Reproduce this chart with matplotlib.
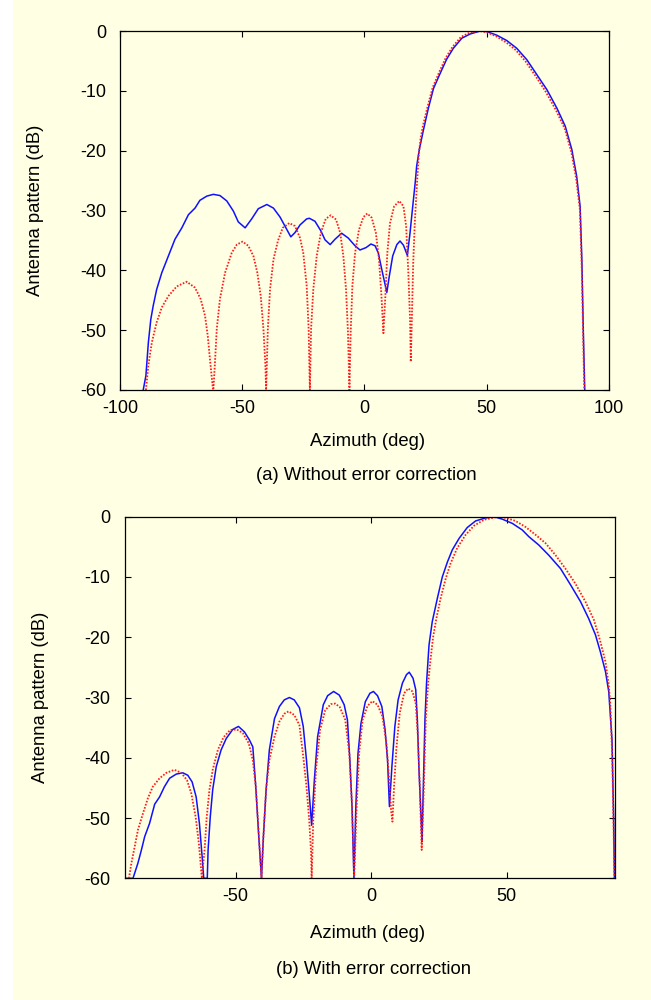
import matplotlib
matplotlib.use("Agg")
import matplotlib.pyplot as plt
from matplotlib.patches import Rectangle

plt.rcParams['font.family'] = ['Liberation Sans', 'DejaVu Sans']
plt.rcParams['axes.unicode_minus'] = False

BG = '#FFFFE3'
BLUE = '#1010FF'
RED = '#FF1A1A'

# (a) without error correction - measured (blue) and ideal (red)
az_a_meas = [-90.5, -89.4, -88.4, -87.4, -86.4, -85.0, -82.9, -80.2, -77.5, -74.7,
             -72.0, -69.3, -67.3, -64.5, -61.8, -59.1, -56.3, -53.6, -51.6, -48.8,
             -46.1, -43.4, -39.9, -37.2, -34.5, -32.1, -30.1, -28.4, -26.3, -23.6,
             -22.5, -20.2, -17.8, -16.1, -14.0, -12.0, -9.3, -6.6, -3.8, -1.8,
             0.7, 2.7, 4.4, 5.7, 7.1, 9.2, 10.2, 11.6, 13.3, 14.6,
             16.0, 17.6, 18.7, 19.8, 20.8, 21.4, 22.5, 24.2, 26.2, 28.3,
             31.0, 33.7, 36.4, 39.9, 43.3, 47.4, 50.1, 54.2, 58.3, 62.4,
             66.5, 70.6, 74.7, 78.8, 82.2, 84.9, 86.9, 88.3, 89.0, 89.6, 90.2]
pat_a_meas = [-60.0, -57.6, -52.1, -48.2, -45.9, -43.2, -40.4, -37.6, -34.8, -32.9,
              -30.7, -29.6, -28.3, -27.6, -27.3, -27.5, -28.4, -30.1, -31.9, -32.9,
              -31.4, -29.7, -29.0, -29.6, -31.1, -32.9, -34.4, -33.7, -32.4, -31.4,
              -31.3, -31.8, -33.4, -34.9, -35.7, -34.8, -33.8, -34.6, -35.9, -36.6,
              -36.2, -35.6, -35.9, -37.1, -39.8, -43.7, -41.0, -37.6, -35.7, -35.1,
              -35.8, -37.5, -33.7, -29.3, -25.4, -22.6, -19.8, -16.5, -12.9, -9.6,
              -7.1, -4.7, -2.9, -1.2, -0.5, 0.0, -0.1, -0.7, -1.6, -2.9,
              -4.8, -7.3, -9.8, -12.9, -15.9, -19.8, -24.3, -29.3, -38.0, -50.0, -60.0]

az_a_ideal = [-89.4, -88.4, -87.0, -85.0, -82.9, -80.2, -76.8, -72.7, -69.3, -67.0,
              -65.2, -64.1, -63.2, -62.1, -61.8, -61.2, -60.4, -59.1, -57.0, -54.3,
              -52.2, -49.8, -47.5, -45.4, -43.8, -42.4, -41.3, -40.5, -40.2, -39.5,
              -38.6, -37.2, -35.4, -33.4, -30.7, -28.4, -26.3, -25.0, -23.6, -22.8,
              -22.3, -21.8, -20.9, -19.5, -17.8, -15.8, -13.8, -11.6, -9.9, -8.6,
              -7.5, -6.7, -6.1, -5.6, -4.9, -3.8, -2.2, -0.4, 1.2, 3.0,
              4.7, 6.0, 7.0, 7.8, 8.6, 9.4, 10.5, 12.2, 14.3, 16.0,
              17.1, 18.0, 18.7, 19.0, 19.5, 20.0, 20.7, 21.4, 22.2, 23.0,
              24.0, 25.9, 28.0, 30.6, 33.3, 36.0, 39.5, 43.0, 47.0, 50.0,
              54.0, 58.0, 62.0, 66.0, 70.2, 74.3, 78.5, 82.0, 84.7, 86.7,
              88.2, 89.0, 89.6, 90.0]
pat_a_ideal = [-60.0, -55.9, -52.1, -48.7, -46.2, -44.3, -42.7, -41.9, -42.9, -44.8,
               -47.6, -50.9, -54.8, -59.3, -60.0, -55.9, -49.8, -44.8, -40.4, -37.1,
               -35.7, -35.2, -35.9, -37.6, -40.4, -44.3, -49.8, -55.9, -60.0, -49.8,
               -43.2, -38.2, -35.1, -32.9, -32.1, -32.6, -34.6, -37.1, -42.6, -49.8,
               -60.0, -49.8, -43.2, -37.6, -33.7, -31.4, -30.8, -31.5, -33.7, -37.6,
               -43.2, -50.4, -60.0, -50.4, -42.6, -37.1, -33.2, -31.1, -30.5, -31.2,
               -33.7, -38.2, -44.3, -50.5, -44.3, -37.1, -32.1, -29.3, -28.4, -29.3,
               -32.6, -40.4, -48.2, -55.3, -47.1, -38.7, -31.5, -26.5, -21.0, -18.0,
               -15.8, -12.6, -9.4, -6.9, -4.5, -2.7, -1.0, -0.3, 0.0, -0.2,
               -0.9, -1.9, -3.2, -5.1, -7.6, -10.2, -13.3, -16.3, -20.2, -24.7,
               -29.8, -40.0, -52.0, -60.0]

# (b) with error correction
az_b_meas = [-91.0, -87.9, -86.1, -84.8, -83.6, -81.8, -79.9, -78.1, -76.3, -74.4,
             -71.9, -69.5, -67.7, -66.1, -64.6, -63.4, -62.4, -61.8, -60.5, -60.2,
             -59.4, -58.5, -57.2, -55.4, -53.5, -51.1, -49.0, -46.8, -45.0, -43.7,
             -42.7, -41.5, -40.5, -39.8, -38.8, -37.6, -35.7, -33.9, -32.1, -30.2,
             -28.4, -26.5, -25.1, -23.9, -22.9, -22.0, -21.0, -19.8, -17.7, -16.1,
             -13.9, -11.8, -10.0, -8.8, -7.9, -7.1, -6.4, -5.7, -4.9, -3.8,
             -2.2, -0.5, 0.8, 2.3, 3.9, 5.1, 6.0, 6.7, 7.6, 8.7,
             9.9, 11.5, 13.0, 14.0, 15.4, 16.4, 17.0, 17.6, 18.4, 18.7,
             19.2, 19.8, 20.4, 21.3, 22.5, 24.4, 26.2, 28.1, 29.9, 32.4,
             35.4, 38.5, 42.2, 45.3, 48.3, 52.0, 55.7, 58.1, 61.8, 65.5,
             69.8, 73.5, 77.2, 80.2, 82.7, 84.5, 86.4, 87.6, 88.8, 89.4, 89.7]
pat_b_meas = [-60.0, -60.0, -57.5, -55.3, -53.1, -50.9, -47.7, -46.5, -44.8, -43.4,
              -42.7, -42.5, -42.9, -44.0, -46.5, -50.9, -56.4, -60.0, -60.0, -55.3,
              -49.8, -45.3, -41.5, -38.7, -36.8, -35.3, -34.8, -35.7, -37.0, -38.2,
              -44.2, -53.1, -60.0, -53.1, -45.3, -38.7, -33.5, -31.5, -30.4, -30.0,
              -30.4, -31.7, -34.8, -40.4, -45.9, -51.2, -43.7, -36.5, -31.2, -29.7,
              -29.0, -29.6, -31.2, -33.7, -40.4, -48.1, -60.0, -48.1, -39.3, -34.3,
              -30.7, -29.3, -29.0, -29.7, -31.5, -35.4, -40.4, -48.1, -41.5, -34.8,
              -30.4, -27.6, -26.2, -25.8, -26.8, -28.7, -33.7, -42.0, -50.3, -53.9,
              -44.8, -33.7, -27.5, -21.3, -17.4, -13.5, -10.0, -7.5, -5.5, -3.6,
              -1.8, -0.7, -0.2, 0.0, -0.4, -1.1, -2.2, -3.3, -4.7, -6.4,
              -8.6, -11.3, -14.1, -16.9, -19.6, -22.4, -25.7, -29.0, -37.0, -50.0, -60.0]

az_b_ideal = [-89.4, -88.5, -87.3, -86.1, -84.2, -82.4, -80.6, -78.1, -75.6, -72.6,
              -70.1, -68.0, -66.4, -64.8, -63.6, -62.5, -61.5, -60.7, -59.7, -58.5,
              -56.6, -54.5, -52.1, -49.6, -47.4, -45.2, -43.7, -42.5, -41.3, -40.5,
              -39.8, -38.8, -37.6, -35.7, -33.9, -32.1, -30.5, -28.4, -26.5, -25.1,
              -23.9, -22.9, -22.2, -22.0, -21.4, -20.4, -18.9, -17.0, -14.9, -13.3,
              -11.6, -9.6, -8.1, -7.1, -6.3, -5.4, -4.5, -3.2, -1.4, 0.4,
              2.3, 4.1, 5.6, 6.6, 7.3, 7.8, 8.4, 9.3, 10.5, 12.1,
              13.6, 15.2, 16.4, 17.2, 17.9, 18.6, 19.4, 20.1, 21.0, 21.9,
              22.8, 24.0, 25.6, 27.5, 29.3, 31.7, 34.8, 37.9, 41.6, 45.9,
              47.5, 49.6, 53.2, 56.9, 60.6, 64.3, 68.0, 71.6, 75.3, 79.0,
              82.1, 84.5, 86.4, 87.6, 88.2, 88.9, 89.4, 89.7]
pat_b_ideal = [-60.0, -57.5, -54.8, -52.0, -49.2, -46.7, -44.8, -43.4, -42.5, -42.0,
               -42.5, -43.7, -45.9, -49.8, -54.2, -60.0, -55.3, -49.8, -45.3, -42.0,
               -38.7, -36.6, -35.4, -35.3, -35.9, -37.6, -40.4, -45.3, -54.2, -60.0,
               -53.1, -45.3, -40.4, -36.5, -34.0, -32.7, -32.3, -32.9, -34.6, -39.8,
               -44.8, -50.3, -55.8, -60.0, -50.3, -42.0, -35.4, -32.1, -31.1, -31.0,
               -31.6, -33.7, -39.3, -48.1, -60.0, -48.1, -39.3, -33.7, -31.4, -30.6,
               -31.2, -33.1, -37.6, -43.7, -48.7, -50.6, -44.8, -38.2, -32.6, -29.3,
               -28.5, -29.0, -31.0, -36.5, -44.8, -55.3, -44.8, -33.7, -27.5, -23.5,
               -20.0, -16.9, -13.5, -10.2, -7.7, -5.2, -3.0, -1.5, -0.5, -0.1,
               0.0, -0.2, -0.7, -1.7, -3.0, -4.4, -6.4, -8.6, -11.1, -14.1,
               -17.1, -20.7, -24.1, -27.9, -31.2, -40.0, -52.0, -60.0]

y_ticks = [0, -10, -20, -30, -40, -50, -60]

fig = plt.figure(figsize=(6.51, 10), dpi=100, facecolor=BG)
fig.patches.append(Rectangle((0, 0), 13 / 651, 1, transform=fig.transFigure,
                             facecolor='white', edgecolor='none', zorder=-10))

ax1 = fig.add_axes([120 / 651, 1 - 390 / 1000, 488.7 / 651, 359 / 1000])
ax2 = fig.add_axes([124.6 / 651, 1 - 878.3 / 1000, 490.1 / 651, 361.6 / 1000])

panels = [
    (ax1, az_a_meas, pat_a_meas, az_a_ideal, pat_a_ideal, (-100, 100), [-100, -50, 0, 50, 100]),
    (ax2, az_b_meas, pat_b_meas, az_b_ideal, pat_b_ideal, (-91, 89.8), [-50, 0, 50]),
]

for ax, xm, ym, xi, yi, xl, xt in panels:
    ax.set_facecolor(BG)
    ax.plot(xm, ym, color=BLUE, lw=1.1, solid_joinstyle='round')
    ax.plot(xi, yi, color=RED, lw=1.3, linestyle=(0, (0.9, 0.9)))
    ax.set_xlim(*xl)
    ax.set_ylim(-60, 0)
    ax.set_xticks(xt)
    ax.set_yticks(y_ticks)
    ax.tick_params(direction='in', top=True, right=True, length=4, width=0.8,
                   labelsize=13, colors='black')
    ax.tick_params(axis='y', pad=10)
    ax.tick_params(axis='x', pad=7)
    for s in ax.spines.values():
        s.set_linewidth(0.9)
        s.set_color('black')

txt = dict(fontsize=13.3, ha='center', va='center')
fig.text(0.0542, 0.790, 'Antenna pattern (dB)', rotation=90, **txt)
fig.text(0.5645, 0.559, 'Azimuth (deg)', **txt)
fig.text(0.563, 0.525, '(a) Without error correction', **txt)
fig.text(0.0619, 0.3026, 'Antenna pattern (dB)', rotation=90, **txt)
fig.text(0.5645, 0.066, 'Azimuth (deg)', **txt)
fig.text(0.574, 0.030, '(b) With error correction', **txt)

fig.savefig('out.png', dpi=100, facecolor=BG)
